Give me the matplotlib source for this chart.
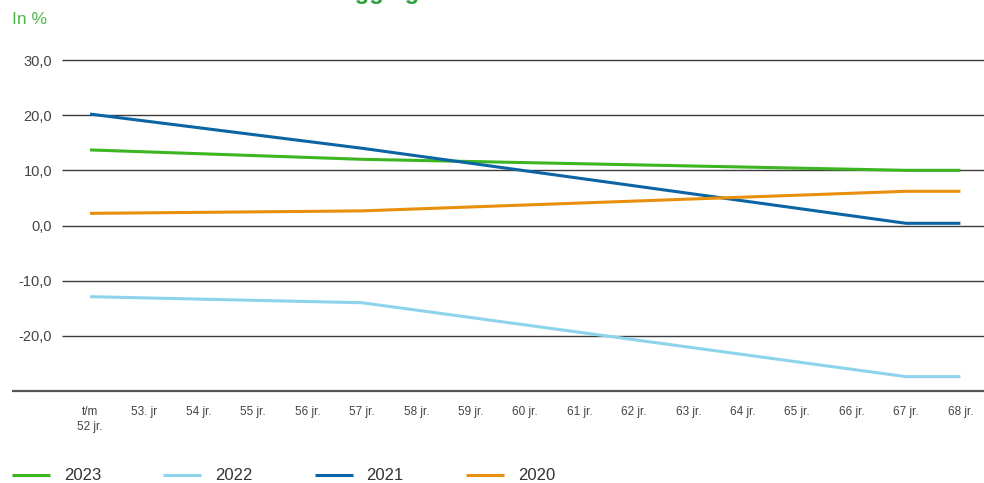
import matplotlib.pyplot as plt
from matplotlib.lines import Line2D

plt.rcParams['font.family'] = ['Liberation Sans', 'DejaVu Sans']

# leeftijdscategorieen op de x-as
categories = ['t/m\n52 jr.', '53. jr', '54 jr.', '55 jr.', '56 jr.', '57 jr.', '58 jr.',
              '59 jr.', '60 jr.', '61 jr.', '62 jr.', '63 jr.', '64 jr.', '65 jr.',
              '66 jr.', '67 jr.', '68 jr.']

# posities (index in categories) waar de lijnen een knik hebben
knots = [0, 5, 15, 16]
r2023 = [13.7, 12.0, 10.0, 10.0]
r2022 = [-12.9, -14.0, -27.4, -27.4]
r2021 = [20.2, 14.0, 0.4, 0.4]
r2020 = [2.2, 2.65, 6.2, 6.2]

series = [('2023', r2023, '#3cb521'),
          ('2022', r2022, '#8dd3ec'),
          ('2021', r2021, '#0b64a3'),
          ('2020', r2020, '#e88f0d')]

yticks = [30, 20, 10, 0, -10, -20]
ytick_labels = ['30,0', '20,0', '10,0', '0,0', '-10,0', '-20,0']

W, H = 984, 483
fig = plt.figure(figsize=(W / 100, H / 100), dpi=100)

# assen: links bij de rasterlijnen, rechts tot de rand
ax_left, ax_right, ax_top, ax_bottom = 62, 984, 60, 391
ax = fig.add_axes([ax_left / W, (H - ax_bottom) / H,
                   (ax_right - ax_left) / W, (ax_bottom - ax_top) / H])

step = 54.4
x0 = 90
xmin = (ax_left - x0) / step
xmax = (ax_right - x0) / step
ax.set_xlim(xmin, xmax)
ax.set_ylim(-30, 30)

for s in ax.spines.values():
    s.set_visible(False)

ax.hlines(yticks, xmin, xmax, color='#3c3c3c', lw=1.0, clip_on=False, zorder=1)
# onderste aslijn loopt verder naar links door
ax.plot([(12 - x0) / step, xmax], [-30, -30], color='#555555', lw=1.6,
        clip_on=False, zorder=1, solid_capstyle='butt')

for name, vals, col in series:
    ax.plot(knots, vals, color=col, lw=2.2, zorder=3, solid_capstyle='butt')

ax.set_yticks(yticks)
ax.set_yticklabels(ytick_labels, fontsize=10.5, color='#444444')
ax.set_xticks(range(len(categories)))
ax.set_xticklabels(categories, fontsize=8.5, color='#444444', linespacing=1.35)
ax.tick_params(axis='y', length=0, pad=7)
ax.tick_params(axis='x', length=0, pad=11)

# titel (valt grotendeels boven de rand) en eenheid
fig.text(32 / W, 1 + 1.5 / H, 'Netto rendement van de beleggingsmix', color='#2e9e3c',
         fontsize=17, fontweight='bold', va='baseline', ha='left')
fig.text(12 / W, 1 - 20 / H, 'In %', color='#4db848', fontsize=12.5,
         va='center', ha='left')

# legenda onderaan
for i, (name, vals, col) in enumerate(series):
    lx = 12 + i * 151.3
    ly = 1 - 475 / H
    fig.add_artist(Line2D([lx / W, (lx + 38) / W], [ly, ly], color=col, lw=2.2,
                          transform=fig.transFigure, solid_capstyle='butt'))
    fig.text((lx + 52) / W, ly, name, color='#333333', fontsize=12,
             va='center', ha='left')

fig.savefig('out.png', dpi=100)
